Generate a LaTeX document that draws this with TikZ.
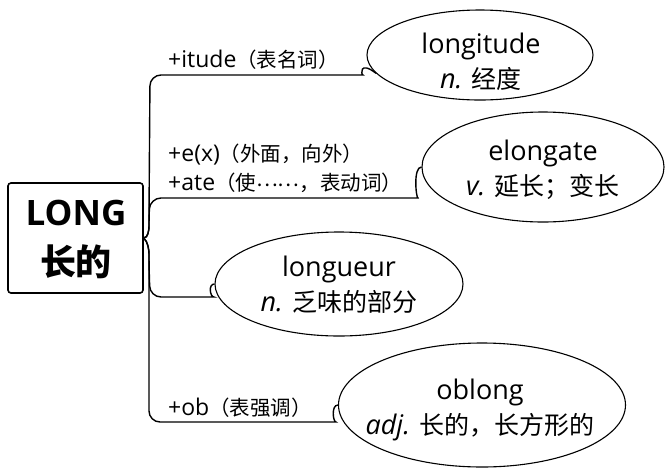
\documentclass[tikz,border=0pt]{standalone}
\usepackage{fontspec}
\setmainfont{Open Sans}
\newfontfamily\cjk{Noto Sans CJK SC}
\usetikzlibrary{shapes.geometric}
\newcommand\zhE[1]{{\fontsize{25}{35}\selectfont\cjk #1}}
\newcommand\zhL[1]{{\fontsize{20.5}{28}\selectfont\cjk #1}}
\tikzset{
  ell/.style={draw, ellipse, line width=1.1pt, inner sep=0pt},
  etext/.style={inner sep=0pt, align=center, font=\fontsize{27}{35}\selectfont},
  lbl/.style={anchor=west, inner sep=0pt, font=\fontsize{23}{28}\selectfont},
  branch/.style={line width=1.4pt, rounded corners=11pt},
  rootbox/.style={draw, line width=1.6pt, rounded corners=3pt,
    minimum width=135pt, minimum height=110pt, inner sep=0pt},
  roottext/.style={inner sep=0pt, font=\bfseries}
}
\begin{document}
\begin{tikzpicture}[x=1pt,y=-1pt]
\useasboundingbox (0,0) rectangle (665,467);
\node[rootbox] (root) at (75.5,238) {};
\node[roottext, font=\fontsize{35}{40}\selectfont\bfseries] (r1) at (76,213) {LONG};
\node[roottext, font=\fontsize{36}{40}\selectfont\bfseries\cjk] (r2) at (76,262) {长的};

\node[ell, minimum width=226pt, minimum height=90pt] (e1) at (480,55) {};
\node[ell, minimum width=242pt, minimum height=110pt] (e2) at (543,167) {};
\node[ell, minimum width=248pt, minimum height=104pt] (e3) at (339,284) {};
\node[ell, minimum width=287pt, minimum height=124pt] (e4) at (482,405) {};

\node[etext] (t1) at (481,62) {longitude\\{\itshape n.} \zhE{经度}};
\node[etext] (t2) at (543,170) {elongate\\{\itshape v.} \zhE{延长；变长}};
\node[etext] (t3) at (339,285) {longueur\\{\itshape n.} \zhE{乏味的部分}};
\node[etext] (t4) at (480,410) {oblong\\{\itshape adj.} \zhE{长的，长方形的}};

\node[lbl] (l1) at (168,60) {+itude\zhL{（表名词）}};
\node[lbl] (l2a) at (168,155) {+e(x)\zhL{（外面，向外）}};
\node[lbl] (l2b) at (168,183) {+ate\zhL{（使\raisebox{0.22em}{……}，表动词）}};
\node[lbl] (l4) at (168,408) {+ob\zhL{（表强调）}};

\draw[branch] (root.east) .. controls (148,238) and (149,230) .. (149,215)
  -- (150,75) -- (352,75) .. controls (361,75) and (359,60) .. (e1.190);
\draw[branch] (root.east) .. controls (148,238) and (149,230) .. (149,215)
  -- (150,198) -- (407,198) .. controls (416,198) and (413,167) .. (e2.west);
\draw[branch] (root.east) .. controls (148,242) and (149,250) .. (149,265)
  -- (150,297) -- (203,297) .. controls (210,297) and (208,284) .. (e3.west);
\draw[branch] (root.east) .. controls (148,242) and (149,250) .. (149,265)
  -- (149,422) -- (325,422) .. controls (333,422) and (331,405) .. (e4.west);
\end{tikzpicture}
\end{document}
